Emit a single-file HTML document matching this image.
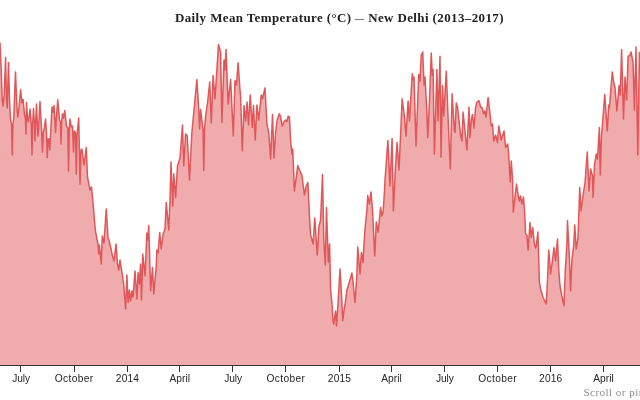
<!DOCTYPE html>
<html><head><meta charset="utf-8"><title>Daily Mean Temperature — New Delhi</title>
<style>
html,body{margin:0;padding:0;background:#fff;overflow:hidden;}
body{width:640px;height:400px;position:relative;font-family:"Liberation Serif",serif;}
#title{position:absolute;left:175px;top:10px;font:bold 12px "Liberation Serif",serif;color:#222;white-space:nowrap;letter-spacing:0.37px;line-height:16px;transform-origin:0 0;transform:scaleX(1.079);}
#hint{position:absolute;left:583.5px;top:383.5px;font:11.2px "Liberation Serif",serif;color:#8f8f8f;white-space:nowrap;letter-spacing:0.4px;line-height:16px;}
svg{position:absolute;left:0;top:0;}
.axis text{font-family:"Liberation Sans",sans-serif;font-size:10.2px;fill:#262626;text-anchor:middle;}
.axis line,.axis path{stroke:#333;stroke-width:1;fill:none;shape-rendering:crispEdges;}
</style></head><body>
<div id="title">Daily Mean Temperature (°C) <span style="font-size:8.4px;position:relative;top:-1px">—</span> New Delhi (2013–2017)</div>
<svg width="640" height="400" viewBox="0 0 640 400">
<path d="M-2.00,60.00 L0.00,43.00 L1.20,70.00 L2.20,100.00 L3.00,106.00 L4.20,95.00 L5.60,57.50 L6.50,100.00 L7.20,108.00 L8.50,62.50 L9.50,100.00 L10.50,119.00 L11.60,125.00 L12.25,155.00 L12.90,125.00 L13.80,117.00 L15.50,72.00 L16.80,105.00 L17.80,117.00 L19.00,108.00 L20.60,89.50 L22.00,103.00 L23.10,99.50 L24.50,115.00 L25.40,118.00 L26.00,134.00 L26.50,102.50 L27.60,120.00 L28.50,122.00 L30.00,109.00 L31.30,125.00 L32.00,155.00 L32.60,125.00 L33.50,108.50 L34.50,125.00 L35.00,141.00 L35.60,125.00 L36.50,104.00 L37.50,128.00 L38.00,136.00 L38.60,128.00 L40.00,101.50 L41.50,128.00 L42.50,152.00 L43.30,132.00 L44.00,130.00 L45.60,119.00 L46.60,135.00 L47.25,157.50 L48.00,139.00 L49.00,139.00 L49.75,150.00 L50.50,135.00 L52.00,107.00 L53.00,112.00 L54.00,105.50 L55.00,122.00 L55.60,132.50 L56.20,120.00 L57.75,99.75 L59.50,120.00 L60.50,122.00 L61.00,144.00 L61.60,122.00 L62.50,114.00 L63.50,118.00 L64.75,110.50 L66.50,126.00 L67.80,128.00 L68.50,171.00 L69.20,130.00 L70.00,119.00 L71.30,127.00 L72.50,126.00 L73.50,152.00 L74.30,131.00 L75.50,133.00 L76.25,174.00 L77.00,135.00 L78.75,118.00 L80.00,184.00 L81.00,150.00 L81.90,149.00 L84.00,165.00 L86.25,147.50 L87.50,177.00 L90.00,190.00 L91.50,187.00 L93.75,211.00 L94.40,220.00 L95.60,232.00 L98.10,245.00 L98.75,254.00 L99.40,245.00 L101.25,264.00 L102.25,236.00 L104.00,243.00 L106.25,209.00 L108.10,239.00 L109.00,240.00 L110.60,247.00 L112.50,256.00 L114.00,261.00 L116.00,244.00 L117.50,264.00 L118.75,270.00 L120.00,260.00 L121.90,272.00 L123.75,285.00 L125.60,309.00 L126.90,275.00 L128.10,302.50 L129.40,290.00 L130.60,301.00 L131.90,291.00 L133.10,297.00 L135.00,271.00 L136.90,299.00 L138.10,272.50 L139.40,284.00 L140.60,264.00 L141.50,300.00 L142.75,254.00 L145.00,276.00 L146.90,233.00 L147.80,240.00 L148.75,225.60 L150.60,291.00 L152.50,267.50 L153.75,294.00 L156.25,266.00 L156.90,250.00 L158.10,253.00 L159.75,232.50 L161.25,249.00 L163.10,234.00 L165.00,229.00 L166.25,202.50 L168.75,230.00 L170.00,200.00 L171.00,162.00 L172.75,206.00 L173.75,174.00 L175.60,197.50 L177.50,166.00 L180.00,158.00 L182.50,125.00 L183.75,166.00 L185.60,134.00 L187.25,136.00 L189.50,180.00 L191.90,132.50 L193.75,112.50 L196.90,79.40 L198.75,109.00 L199.60,129.00 L200.60,109.50 L203.10,130.00 L203.75,170.60 L204.50,130.00 L205.60,116.00 L207.50,103.00 L209.75,82.00 L211.25,123.00 L213.10,75.60 L215.00,99.00 L218.50,44.40 L220.60,52.50 L221.90,122.50 L224.00,60.00 L225.00,70.00 L226.00,49.40 L228.10,104.00 L230.60,79.40 L233.30,136.00 L235.00,80.60 L236.50,85.00 L238.10,62.75 L240.00,90.00 L240.60,96.00 L242.30,151.00 L244.00,105.60 L245.60,121.00 L247.10,102.00 L248.50,125.00 L250.25,95.00 L252.25,127.50 L253.50,105.60 L255.25,140.00 L256.90,105.00 L258.75,120.00 L261.25,95.00 L262.50,98.75 L265.00,88.00 L266.90,124.00 L268.75,132.50 L270.60,159.00 L272.50,114.40 L274.00,158.00 L275.60,132.00 L277.25,119.40 L279.40,113.75 L280.60,117.00 L282.25,126.00 L284.00,122.00 L285.60,120.00 L286.90,121.50 L288.10,116.25 L289.40,117.00 L290.60,140.00 L291.90,154.00 L292.75,149.00 L294.40,191.00 L297.75,165.60 L300.00,171.00 L301.90,175.00 L304.40,195.00 L306.25,186.00 L307.90,182.50 L309.40,215.00 L310.60,235.00 L313.10,244.00 L314.75,218.00 L317.25,255.00 L319.00,226.00 L320.60,220.00 L322.50,174.40 L323.75,239.00 L325.30,265.00 L326.50,207.50 L328.30,262.00 L329.60,244.00 L330.60,290.00 L331.90,302.50 L333.10,321.00 L333.75,324.00 L335.60,311.00 L336.50,326.00 L338.10,302.50 L340.00,269.00 L341.25,290.00 L342.75,320.60 L344.40,307.50 L345.00,305.00 L346.90,290.00 L349.40,282.00 L351.90,273.00 L353.10,282.50 L355.00,302.50 L356.90,275.00 L357.75,247.00 L360.00,274.00 L361.40,252.50 L363.10,262.50 L363.75,247.50 L365.00,229.00 L366.90,210.00 L367.75,195.60 L369.40,204.00 L371.00,192.00 L372.50,210.00 L374.75,256.00 L376.25,222.00 L378.10,232.00 L380.60,207.50 L381.90,216.00 L383.10,212.00 L384.40,192.50 L385.00,180.00 L387.90,140.60 L390.00,186.00 L392.10,138.50 L393.40,211.00 L395.60,165.00 L397.10,142.50 L399.00,170.00 L400.60,135.00 L402.10,98.75 L404.40,116.00 L406.00,136.00 L408.10,101.00 L409.40,121.00 L412.25,73.75 L413.10,80.00 L414.00,77.00 L416.00,146.00 L418.75,74.40 L420.00,81.00 L421.25,55.00 L422.75,52.00 L424.00,85.00 L425.00,77.00 L426.90,112.50 L427.75,137.50 L429.50,100.00 L431.25,53.00 L432.30,75.00 L433.10,69.40 L434.40,154.00 L436.90,69.40 L438.00,121.00 L440.00,56.25 L441.00,157.00 L442.50,85.60 L443.75,116.00 L446.25,71.25 L448.00,115.00 L450.30,169.00 L452.10,93.75 L454.40,131.00 L455.00,132.50 L456.25,103.00 L457.50,107.00 L460.60,135.00 L461.90,141.00 L463.10,112.00 L465.00,131.00 L466.90,150.00 L469.00,107.00 L470.00,137.50 L471.30,120.00 L472.50,114.40 L474.00,128.00 L475.60,107.50 L476.90,102.00 L479.00,100.60 L480.60,107.00 L482.25,108.00 L483.50,113.75 L484.70,111.00 L486.00,117.00 L488.10,97.50 L490.00,113.75 L491.25,126.00 L492.50,124.00 L493.75,141.00 L495.60,135.00 L497.50,142.50 L498.75,126.00 L501.25,140.00 L504.00,131.00 L505.60,147.50 L507.75,144.00 L508.75,156.00 L510.20,182.00 L511.25,161.00 L512.50,177.50 L513.30,212.00 L516.50,184.00 L518.10,195.00 L519.40,201.00 L520.60,196.00 L521.90,204.00 L523.50,197.00 L524.75,215.00 L525.60,234.00 L526.90,235.00 L528.10,250.00 L530.00,222.50 L531.25,237.50 L532.75,227.50 L534.40,244.00 L535.60,248.00 L536.25,246.00 L537.90,232.00 L539.40,282.00 L540.60,289.00 L543.10,297.50 L546.25,304.00 L547.50,280.00 L548.75,250.00 L550.60,274.00 L552.50,260.00 L554.00,247.50 L555.60,261.00 L557.50,239.00 L558.75,270.00 L560.00,286.00 L561.90,296.00 L564.00,305.60 L565.30,270.00 L566.90,245.00 L567.50,220.60 L569.40,257.50 L570.60,291.00 L571.90,260.00 L573.75,245.00 L574.75,225.00 L576.25,249.00 L578.00,238.00 L579.75,187.50 L581.00,211.00 L583.10,195.00 L585.00,182.50 L585.60,175.00 L587.25,152.00 L589.00,191.00 L590.60,169.00 L592.50,176.00 L593.10,197.50 L594.50,165.00 L596.25,154.00 L597.50,159.00 L599.40,127.50 L600.25,175.00 L601.50,135.00 L602.50,124.00 L604.75,94.40 L607.25,131.00 L608.75,105.00 L609.40,108.00 L612.25,72.00 L613.75,82.50 L615.00,87.50 L616.90,111.00 L619.10,85.60 L620.30,95.00 L621.60,49.40 L623.50,119.00 L625.00,77.00 L626.60,100.00 L628.10,56.00 L629.50,56.00 L631.00,52.00 L633.10,62.50 L634.40,110.00 L636.00,47.00 L637.80,155.00 L639.40,52.50 L641.00,80.00 L643.00,60.00 L643.00,365.5 L-2.00,365.5 Z" fill="#e15759" fill-opacity="0.5" stroke="none"/>
<path d="M-2.00,60.00 L0.00,43.00 L1.20,70.00 L2.20,100.00 L3.00,106.00 L4.20,95.00 L5.60,57.50 L6.50,100.00 L7.20,108.00 L8.50,62.50 L9.50,100.00 L10.50,119.00 L11.60,125.00 L12.25,155.00 L12.90,125.00 L13.80,117.00 L15.50,72.00 L16.80,105.00 L17.80,117.00 L19.00,108.00 L20.60,89.50 L22.00,103.00 L23.10,99.50 L24.50,115.00 L25.40,118.00 L26.00,134.00 L26.50,102.50 L27.60,120.00 L28.50,122.00 L30.00,109.00 L31.30,125.00 L32.00,155.00 L32.60,125.00 L33.50,108.50 L34.50,125.00 L35.00,141.00 L35.60,125.00 L36.50,104.00 L37.50,128.00 L38.00,136.00 L38.60,128.00 L40.00,101.50 L41.50,128.00 L42.50,152.00 L43.30,132.00 L44.00,130.00 L45.60,119.00 L46.60,135.00 L47.25,157.50 L48.00,139.00 L49.00,139.00 L49.75,150.00 L50.50,135.00 L52.00,107.00 L53.00,112.00 L54.00,105.50 L55.00,122.00 L55.60,132.50 L56.20,120.00 L57.75,99.75 L59.50,120.00 L60.50,122.00 L61.00,144.00 L61.60,122.00 L62.50,114.00 L63.50,118.00 L64.75,110.50 L66.50,126.00 L67.80,128.00 L68.50,171.00 L69.20,130.00 L70.00,119.00 L71.30,127.00 L72.50,126.00 L73.50,152.00 L74.30,131.00 L75.50,133.00 L76.25,174.00 L77.00,135.00 L78.75,118.00 L80.00,184.00 L81.00,150.00 L81.90,149.00 L84.00,165.00 L86.25,147.50 L87.50,177.00 L90.00,190.00 L91.50,187.00 L93.75,211.00 L94.40,220.00 L95.60,232.00 L98.10,245.00 L98.75,254.00 L99.40,245.00 L101.25,264.00 L102.25,236.00 L104.00,243.00 L106.25,209.00 L108.10,239.00 L109.00,240.00 L110.60,247.00 L112.50,256.00 L114.00,261.00 L116.00,244.00 L117.50,264.00 L118.75,270.00 L120.00,260.00 L121.90,272.00 L123.75,285.00 L125.60,309.00 L126.90,275.00 L128.10,302.50 L129.40,290.00 L130.60,301.00 L131.90,291.00 L133.10,297.00 L135.00,271.00 L136.90,299.00 L138.10,272.50 L139.40,284.00 L140.60,264.00 L141.50,300.00 L142.75,254.00 L145.00,276.00 L146.90,233.00 L147.80,240.00 L148.75,225.60 L150.60,291.00 L152.50,267.50 L153.75,294.00 L156.25,266.00 L156.90,250.00 L158.10,253.00 L159.75,232.50 L161.25,249.00 L163.10,234.00 L165.00,229.00 L166.25,202.50 L168.75,230.00 L170.00,200.00 L171.00,162.00 L172.75,206.00 L173.75,174.00 L175.60,197.50 L177.50,166.00 L180.00,158.00 L182.50,125.00 L183.75,166.00 L185.60,134.00 L187.25,136.00 L189.50,180.00 L191.90,132.50 L193.75,112.50 L196.90,79.40 L198.75,109.00 L199.60,129.00 L200.60,109.50 L203.10,130.00 L203.75,170.60 L204.50,130.00 L205.60,116.00 L207.50,103.00 L209.75,82.00 L211.25,123.00 L213.10,75.60 L215.00,99.00 L218.50,44.40 L220.60,52.50 L221.90,122.50 L224.00,60.00 L225.00,70.00 L226.00,49.40 L228.10,104.00 L230.60,79.40 L233.30,136.00 L235.00,80.60 L236.50,85.00 L238.10,62.75 L240.00,90.00 L240.60,96.00 L242.30,151.00 L244.00,105.60 L245.60,121.00 L247.10,102.00 L248.50,125.00 L250.25,95.00 L252.25,127.50 L253.50,105.60 L255.25,140.00 L256.90,105.00 L258.75,120.00 L261.25,95.00 L262.50,98.75 L265.00,88.00 L266.90,124.00 L268.75,132.50 L270.60,159.00 L272.50,114.40 L274.00,158.00 L275.60,132.00 L277.25,119.40 L279.40,113.75 L280.60,117.00 L282.25,126.00 L284.00,122.00 L285.60,120.00 L286.90,121.50 L288.10,116.25 L289.40,117.00 L290.60,140.00 L291.90,154.00 L292.75,149.00 L294.40,191.00 L297.75,165.60 L300.00,171.00 L301.90,175.00 L304.40,195.00 L306.25,186.00 L307.90,182.50 L309.40,215.00 L310.60,235.00 L313.10,244.00 L314.75,218.00 L317.25,255.00 L319.00,226.00 L320.60,220.00 L322.50,174.40 L323.75,239.00 L325.30,265.00 L326.50,207.50 L328.30,262.00 L329.60,244.00 L330.60,290.00 L331.90,302.50 L333.10,321.00 L333.75,324.00 L335.60,311.00 L336.50,326.00 L338.10,302.50 L340.00,269.00 L341.25,290.00 L342.75,320.60 L344.40,307.50 L345.00,305.00 L346.90,290.00 L349.40,282.00 L351.90,273.00 L353.10,282.50 L355.00,302.50 L356.90,275.00 L357.75,247.00 L360.00,274.00 L361.40,252.50 L363.10,262.50 L363.75,247.50 L365.00,229.00 L366.90,210.00 L367.75,195.60 L369.40,204.00 L371.00,192.00 L372.50,210.00 L374.75,256.00 L376.25,222.00 L378.10,232.00 L380.60,207.50 L381.90,216.00 L383.10,212.00 L384.40,192.50 L385.00,180.00 L387.90,140.60 L390.00,186.00 L392.10,138.50 L393.40,211.00 L395.60,165.00 L397.10,142.50 L399.00,170.00 L400.60,135.00 L402.10,98.75 L404.40,116.00 L406.00,136.00 L408.10,101.00 L409.40,121.00 L412.25,73.75 L413.10,80.00 L414.00,77.00 L416.00,146.00 L418.75,74.40 L420.00,81.00 L421.25,55.00 L422.75,52.00 L424.00,85.00 L425.00,77.00 L426.90,112.50 L427.75,137.50 L429.50,100.00 L431.25,53.00 L432.30,75.00 L433.10,69.40 L434.40,154.00 L436.90,69.40 L438.00,121.00 L440.00,56.25 L441.00,157.00 L442.50,85.60 L443.75,116.00 L446.25,71.25 L448.00,115.00 L450.30,169.00 L452.10,93.75 L454.40,131.00 L455.00,132.50 L456.25,103.00 L457.50,107.00 L460.60,135.00 L461.90,141.00 L463.10,112.00 L465.00,131.00 L466.90,150.00 L469.00,107.00 L470.00,137.50 L471.30,120.00 L472.50,114.40 L474.00,128.00 L475.60,107.50 L476.90,102.00 L479.00,100.60 L480.60,107.00 L482.25,108.00 L483.50,113.75 L484.70,111.00 L486.00,117.00 L488.10,97.50 L490.00,113.75 L491.25,126.00 L492.50,124.00 L493.75,141.00 L495.60,135.00 L497.50,142.50 L498.75,126.00 L501.25,140.00 L504.00,131.00 L505.60,147.50 L507.75,144.00 L508.75,156.00 L510.20,182.00 L511.25,161.00 L512.50,177.50 L513.30,212.00 L516.50,184.00 L518.10,195.00 L519.40,201.00 L520.60,196.00 L521.90,204.00 L523.50,197.00 L524.75,215.00 L525.60,234.00 L526.90,235.00 L528.10,250.00 L530.00,222.50 L531.25,237.50 L532.75,227.50 L534.40,244.00 L535.60,248.00 L536.25,246.00 L537.90,232.00 L539.40,282.00 L540.60,289.00 L543.10,297.50 L546.25,304.00 L547.50,280.00 L548.75,250.00 L550.60,274.00 L552.50,260.00 L554.00,247.50 L555.60,261.00 L557.50,239.00 L558.75,270.00 L560.00,286.00 L561.90,296.00 L564.00,305.60 L565.30,270.00 L566.90,245.00 L567.50,220.60 L569.40,257.50 L570.60,291.00 L571.90,260.00 L573.75,245.00 L574.75,225.00 L576.25,249.00 L578.00,238.00 L579.75,187.50 L581.00,211.00 L583.10,195.00 L585.00,182.50 L585.60,175.00 L587.25,152.00 L589.00,191.00 L590.60,169.00 L592.50,176.00 L593.10,197.50 L594.50,165.00 L596.25,154.00 L597.50,159.00 L599.40,127.50 L600.25,175.00 L601.50,135.00 L602.50,124.00 L604.75,94.40 L607.25,131.00 L608.75,105.00 L609.40,108.00 L612.25,72.00 L613.75,82.50 L615.00,87.50 L616.90,111.00 L619.10,85.60 L620.30,95.00 L621.60,49.40 L623.50,119.00 L625.00,77.00 L626.60,100.00 L628.10,56.00 L629.50,56.00 L631.00,52.00 L633.10,62.50 L634.40,110.00 L636.00,47.00 L637.80,155.00 L639.40,52.50 L641.00,80.00 L643.00,60.00" fill="none" stroke="#e15759" stroke-width="1.5" stroke-linejoin="round"/>
<g class="axis">
<path d="M-10,365.5H700"/>
<line x1="20.5" x2="20.5" y1="365.5" y2="371.5"/><text x="21.1" y="382" letter-spacing="-0.1">July</text>
<line x1="74.5" x2="74.5" y1="365.5" y2="371.5"/><text x="74.2" y="382" letter-spacing="0.35">October</text>
<line x1="127.5" x2="127.5" y1="365.5" y2="371.5"/><text x="127.5" y="382" letter-spacing="0.15">2014</text>
<line x1="179.5" x2="179.5" y1="365.5" y2="371.5"/><text x="179.75" y="382" letter-spacing="0">April</text>
<line x1="232.5" x2="232.5" y1="365.5" y2="371.5"/><text x="233.1" y="382" letter-spacing="-0.1">July</text>
<line x1="285.5" x2="285.5" y1="365.5" y2="371.5"/><text x="285.95" y="382" letter-spacing="0.35">October</text>
<line x1="339.5" x2="339.5" y1="365.5" y2="371.5"/><text x="339.5" y="382" letter-spacing="0.15">2015</text>
<line x1="391.5" x2="391.5" y1="365.5" y2="371.5"/><text x="391.5" y="382" letter-spacing="0">April</text>
<line x1="444.5" x2="444.5" y1="365.5" y2="371.5"/><text x="444.85" y="382" letter-spacing="-0.1">July</text>
<line x1="497.5" x2="497.5" y1="365.5" y2="371.5"/><text x="497.7" y="382" letter-spacing="0.35">October</text>
<line x1="550.5" x2="550.5" y1="365.5" y2="371.5"/><text x="550.75" y="382" letter-spacing="0.15">2016</text>
<line x1="603.5" x2="603.5" y1="365.5" y2="371.5"/><text x="603.5" y="382" letter-spacing="0">April</text>
<line x1="656.5" x2="656.5" y1="365.5" y2="371.5"/><text x="657.1" y="382" letter-spacing="-0.1">July</text>
</g>
</svg>
<div id="hint">Scroll or pinch to zoom</div>
</body></html>
